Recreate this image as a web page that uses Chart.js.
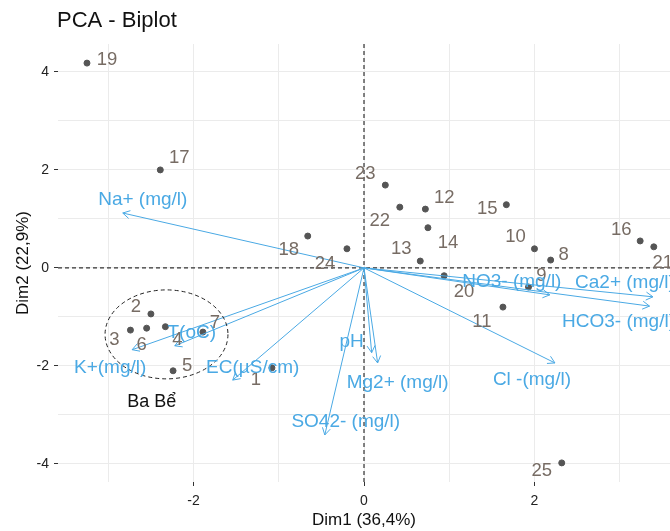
<!DOCTYPE html>
<html>
<head>
<meta charset="utf-8">
<script src="https://cdn.jsdelivr.net/npm/chart.js"></script>
<style>
  html, body { margin: 0; padding: 0; background: #fff; }
  #wrap { width: 670px; height: 531px; overflow: hidden; }
</style>
</head>
<body>
<div id="wrap"><canvas id="myChart" width="675" height="531"></canvas></div>
<script>
// individuals (sampling points) on Dim1 / Dim2
var indLabels = ["1","2","3","4","5","6","7","8","9","10","11","12","13",
                 "14","15","16","17","18","19","20","21","22","23","24","25"];
var indX = [-1.08,-2.50,-2.74,-2.33,-2.24,-2.55,-1.89, 2.19, 1.93, 2.00, 1.63, 0.72, 0.66,
             0.75, 1.67, 3.24,-2.39,-0.66,-3.25, 0.94, 3.40, 0.42, 0.25,-0.20, 2.32];
var indY = [-2.04,-0.94,-1.27,-1.20,-2.10,-1.23,-1.31, 0.16,-0.39, 0.39,-0.80, 1.20, 0.14,
             0.82, 1.29, 0.55, 2.00, 0.65, 4.18,-0.16, 0.43, 1.24, 1.69, 0.39,-3.98];

// variables (arrows)
var varLabels = ["Na+ (mg/l)","K+(mg/l)","T(oC)","EC(µS/cm)","SO42- (mg/l)","pH",
                 "Mg2+ (mg/l)","Cl -(mg/l)","NO3- (mg/l)","Ca2+ (mg/l)","HCO3- (mg/l)"];
var varX = [-2.83,-2.72,-2.22,-1.54,-0.46, 0.09, 0.16, 2.24, 2.18, 3.39, 3.35];
var varY = [ 1.12,-1.67,-1.59,-2.29,-3.41,-1.73,-1.94,-1.94,-0.55,-0.59,-0.78];

// axis ranges and titles
var xMin = -3.59, xMax = 3.59;
var yMin = -4.37, yMax = 4.57;
var xTitle = "Dim1 (36,4%)";
var yTitle = "Dim2 (22,9%)";
var chartTitle = "PCA - Biplot";

// group ellipse (Ba Bể)
var groupName = "Ba Bể";
var groupCenter = [-2.317, -1.357];
var groupRadius = [0.721, 0.908];
var groupLabelPos = [-2.49, -2.73];

// label nudges in pixels (layout only)
var indOffsets = [[-16,12],[-15,-7],[-16,10],[12,13],[14,-5],[-5,17],[12,-9],[13,-5],[13,-11],
                  [-19,-12],[-21,15],[19,-11],[-19,-12],[20,15],[-19,4],[-19,-11],[19,-12],
                  [-19,14],[20,-3],[20,16],[9,16],[-20,14],[-20,-11],[-22,15],[-20,8]];
var varOffsets = [[20,-13],[-22,18],[17,-13],[20,-12],[21,-13],[-20,-11],[20,20],[-23,17],
                  [-38,-13],[-28,-14],[-31,16]];

var BLUE = "#4aa9e4";
var FONT = "'Liberation Sans', Arial, sans-serif";
Chart.defaults.font.family = FONT;

var points = indX.map(function (x, i) { return { x: x, y: indY[i] }; });

var datasets = [
  { type: "line", data: [{x: 0, y: yMin}, {x: 0, y: yMax}], borderColor: "#333",
    borderWidth: 1.2, borderDash: [4, 3], pointRadius: 0, order: 10 },
  { type: "line", data: [{x: xMin, y: 0}, {x: xMax, y: 0}], borderColor: "#333",
    borderWidth: 1.2, borderDash: [4, 3], pointRadius: 0, order: 10 },
  { type: "scatter", data: points, backgroundColor: "#555", borderColor: "#555",
    pointRadius: 3, order: 5 }
];
varX.forEach(function (x, i) {
  datasets.push({ type: "line", data: [{x: 0, y: 0}, {x: x, y: varY[i]}],
    borderColor: BLUE, borderWidth: 1, pointRadius: 0, order: 1 });
});

var extras = {
  id: "extras",
  afterDatasetsDraw: function (chart) {
    var ctx = chart.ctx, xs = chart.scales.x, ys = chart.scales.y;
    ctx.save();

    // ellipse
    var cx = xs.getPixelForValue(groupCenter[0]), cy = ys.getPixelForValue(groupCenter[1]);
    var rx = Math.abs(xs.getPixelForValue(groupCenter[0] + groupRadius[0]) - cx);
    var ry = Math.abs(ys.getPixelForValue(groupCenter[1] + groupRadius[1]) - cy);
    ctx.strokeStyle = "#222";
    ctx.lineWidth = 1;
    ctx.setLineDash([4, 3]);
    ctx.beginPath();
    ctx.ellipse(cx, cy, rx, ry, 0, 0, Math.PI * 2);
    ctx.stroke();
    ctx.setLineDash([]);

    // arrow heads
    ctx.strokeStyle = BLUE;
    ctx.lineWidth = 1;
    var ox = xs.getPixelForValue(0), oy = ys.getPixelForValue(0);
    varX.forEach(function (x, i) {
      var px = xs.getPixelForValue(x), py = ys.getPixelForValue(varY[i]);
      var a = Math.atan2(py - oy, px - ox), len = 8, sp = Math.PI / 6;
      ctx.beginPath();
      ctx.moveTo(px - len * Math.cos(a - sp), py - len * Math.sin(a - sp));
      ctx.lineTo(px, py);
      ctx.lineTo(px - len * Math.cos(a + sp), py - len * Math.sin(a + sp));
      ctx.stroke();
    });

    ctx.textAlign = "center";
    ctx.textBaseline = "middle";

    // individual labels
    ctx.fillStyle = "#776c64";
    ctx.font = "18.5px " + FONT;
    indLabels.forEach(function (lab, i) {
      var px = xs.getPixelForValue(indX[i]), py = ys.getPixelForValue(indY[i]);
      ctx.fillText(lab, px + indOffsets[i][0], py + indOffsets[i][1]);
    });

    // variable labels
    ctx.fillStyle = BLUE;
    ctx.font = "19px " + FONT;
    varLabels.forEach(function (lab, i) {
      var px = xs.getPixelForValue(varX[i]), py = ys.getPixelForValue(varY[i]);
      ctx.fillText(lab, px + varOffsets[i][0], py + varOffsets[i][1]);
    });

    // group name
    ctx.fillStyle = "#111";
    ctx.font = "18px " + FONT;
    ctx.fillText(groupName, xs.getPixelForValue(groupLabelPos[0]), ys.getPixelForValue(groupLabelPos[1]));

    // title
    ctx.textAlign = "left";
    ctx.font = "22px " + FONT;
    ctx.fillText(chartTitle, chart.chartArea.left - 1, 21);
    ctx.restore();
  }
};

function tickMark(c) {
  return (c.tick && Math.abs(c.tick.value % 2) < 1e-9) ? "#333" : "rgba(0,0,0,0)";
}
function tickLabel(v) {
  return (Math.abs(v % 2) < 1e-9) ? String(v) : "";
}

new Chart("myChart", {
  type: "scatter",
  data: { datasets: datasets },
  plugins: [extras],
  options: {
    responsive: false,
    animation: false,
    layout: { padding: { top: 44, right: 0, left: 0, bottom: 0 } },
    plugins: { legend: { display: false }, tooltip: { enabled: false } },
    scales: {
      x: {
        type: "linear", min: xMin, max: xMax,
        afterFit: function (s) { s.height = 49; },
        border: { display: false },
        grid: { color: "#ebebeb", tickLength: 4, tickColor: tickMark },
        ticks: { stepSize: 1, includeBounds: false, autoSkip: false, maxRotation: 0,
                 padding: 7, color: "#222", font: { size: 14 }, callback: tickLabel },
        title: { display: true, text: xTitle, color: "#111", font: { size: 17 },
                 padding: { top: 0, bottom: 0 } }
      },
      y: {
        type: "linear", min: yMin, max: yMax,
        afterFit: function (s) { s.width = 58; },
        border: { display: false },
        grid: { color: "#ebebeb", tickLength: 4, tickColor: tickMark },
        ticks: { stepSize: 1, includeBounds: false, autoSkip: false,
                 padding: 5, color: "#222", font: { size: 14 }, callback: tickLabel },
        title: { display: true, text: yTitle, color: "#111", font: { size: 17 },
                 padding: { top: 13, bottom: 0 } }
      }
    }
  }
});
</script>
</body>
</html>
